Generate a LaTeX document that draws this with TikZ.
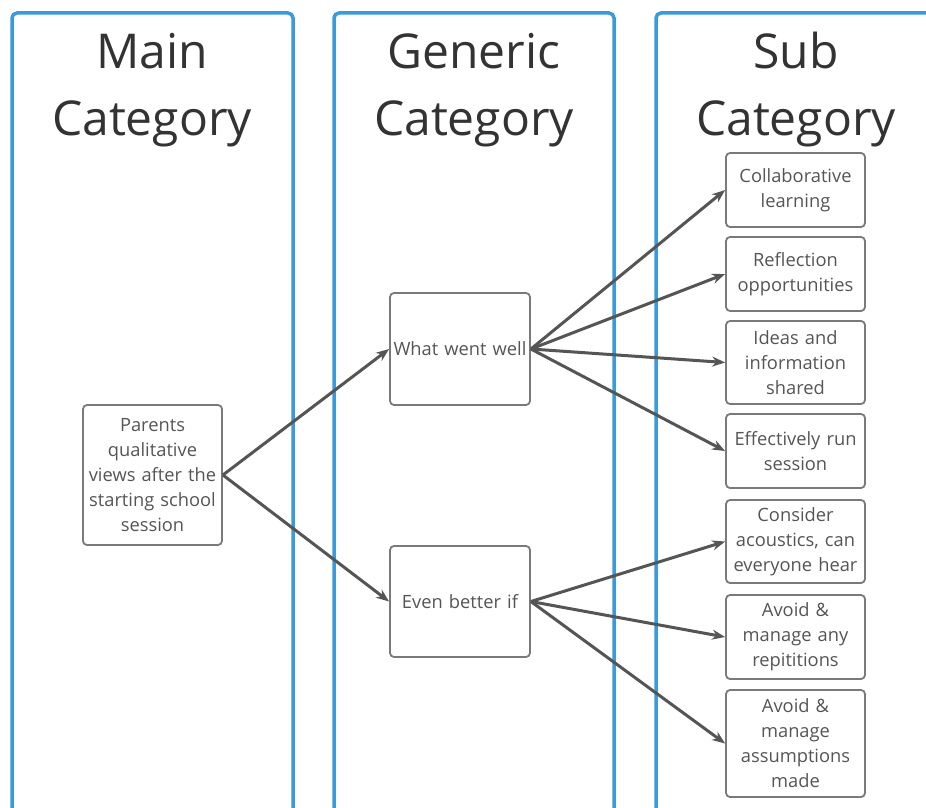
\documentclass[tikz,border=0pt]{standalone}
\usepackage{fontspec}
\setmainfont{Open Sans}
\usetikzlibrary{arrows.meta}
\definecolor{colblue}{HTML}{3A9BDC}
\definecolor{boxgray}{HTML}{7A7A7A}
\definecolor{txtgray}{HTML}{555555}
\definecolor{titlegray}{HTML}{333333}
\definecolor{arrgray}{HTML}{555555}
\begin{document}
\begin{tikzpicture}[x=1pt,y=-1pt,
  column/.style={draw=colblue,line width=3.5pt,rounded corners=5pt},
  title/.style={anchor=base,text=titlegray,font=\fontsize{48}{66}\selectfont,inner sep=0pt},
  box/.style={draw=boxgray,line width=1.8pt,rounded corners=4pt,fill=white,
    text=txtgray,align=center,inner sep=0pt,font=\fontsize{18.3}{25}\selectfont},
  subbox/.style={box,minimum width=139pt,text width=136pt},
  link/.style={draw=arrgray,line width=3pt,-{Stealth[length=13pt,width=10pt]}}
]
\useasboundingbox (0,0) rectangle (926,808);
\fill[white] (0,0) rectangle (926,808);
\begin{scope}
\clip (0,0) rectangle (926,808);
\draw[column] (12,13) rectangle (293,840);
\draw[column] (334,13) rectangle (614,840);
\draw[column] (656,13) rectangle (945,840);
\end{scope}
\node[title] (t1a) at (152,69) {Main};
\node[title] (t1b) at (152,135) {Category};
\node[title] (t2a) at (474,69) {Generic};
\node[title] (t2b) at (474,135) {Category};
\node[title] (t3a) at (796,69) {Sub};
\node[title] (t3b) at (796,135) {Category};

\node[box,minimum width=139pt,minimum height=140pt,text width=138pt] (main) at (152.5,475) {Parents\\qualitative\\views after the\\starting school\\session};
\node[box,minimum width=140pt,minimum height=112pt,text width=139pt] (well) at (460,349) {What went well};
\node[box,minimum width=140pt,minimum height=111pt,text width=139pt] (better) at (460,601.5) {Even better if};

\node[subbox,minimum height=74pt] (s1) at (795.5,190) {Collaborative\\learning};
\node[subbox,minimum height=74pt] (s2) at (795.5,274) {Reflection\\opportunities};
\node[subbox,minimum height=83pt] (s3) at (795.5,362.5) {Ideas and\\information\\shared};
\node[subbox,minimum height=74pt] (s4) at (795.5,451) {Effectively run\\session};
\node[subbox,minimum height=83pt] (s5) at (795.5,541.5) {Consider\\acoustics, can\\everyone hear};
\node[subbox,minimum height=84pt] (s6) at (795.5,637) {Avoid \&\\manage any\\repititions};
\node[subbox,minimum height=107pt] (s7) at (795.5,743.5) {Avoid \&\\manage\\assumptions\\made};

\draw[link] (main.east) -- (well.west);
\draw[link] (main.east) -- (better.west);
\foreach \s in {s1,s2,s3,s4} \draw[link] (well.east) -- (\s.west);
\foreach \s in {s5,s6,s7} \draw[link] (better.east) -- (\s.west);
\end{tikzpicture}
\end{document}
